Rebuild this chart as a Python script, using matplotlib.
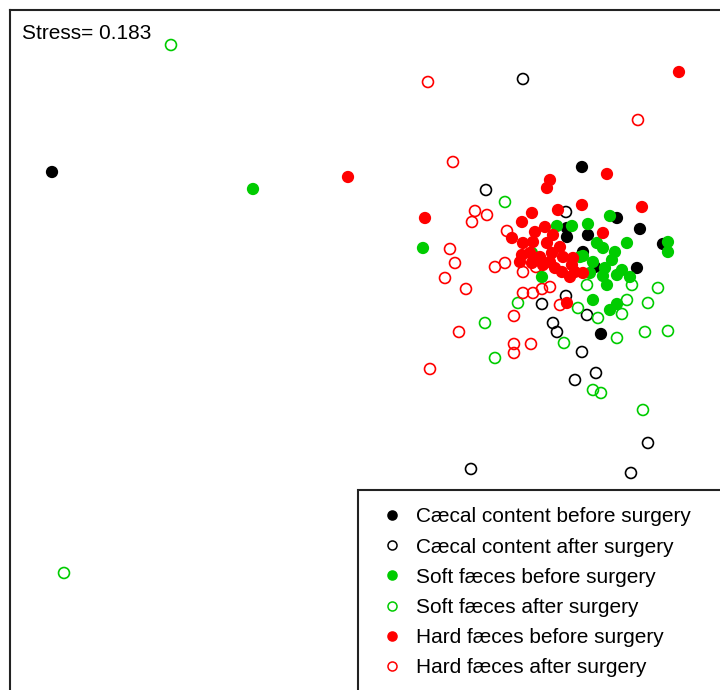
import matplotlib.pyplot as plt
from matplotlib.lines import Line2D
from matplotlib.patches import Rectangle

plt.rcParams['font.family'] = ['Liberation Sans', 'DejaVu Sans']

# NMDS scores per sample group (axis 1, axis 2)
caecal_before_x = [-2.34, 0.31, 0.485, 0.60, 0.235, 0.235, 0.34, 0.315, 0.375, 0.585, 0.715, 0.405]
caecal_before_y = [0.64, 0.665, 0.41, 0.355, 0.36, 0.315, 0.325, 0.24, 0.165, 0.16, 0.28, -0.17]

caecal_after_x = [0.015, -0.17, 0.23, 0.23, 0.11, 0.335, 0.165, 0.185, 0.31, 0.38, 0.275, 0.64, 0.555, -0.245]
caecal_after_y = [1.105, 0.55, 0.44, 0.02, -0.02, -0.075, -0.115, -0.16, -0.26, -0.365, -0.40, -0.715, -0.865, -0.845]

soft_before_x = [-1.335, -0.485, 0.185, 0.26, 0.34, 0.45, 0.535, 0.74, 0.74, 0.06, 0.11, 0.30, 0.385, 0.415,
                 0.475, 0.315, 0.365, 0.46, 0.425, 0.51, 0.35, 0.415, 0.485, 0.55, 0.435, 0.365, 0.485, 0.45]
soft_before_y = [0.555, 0.26, 0.37, 0.37, 0.38, 0.42, 0.285, 0.29, 0.24, 0.235, 0.115, 0.215, 0.285, 0.26,
                 0.24, 0.22, 0.19, 0.20, 0.16, 0.15, 0.135, 0.12, 0.125, 0.115, 0.075, 0.0, -0.02, -0.05]

soft_after_x = [-1.745, -2.28, -0.075, -0.01, -0.175, -0.125, 0.22, 0.335, 0.56, 0.69, 0.535, 0.64, 0.29,
                0.39, 0.51, 0.485, 0.625, 0.74, 0.365, 0.405, 0.615]
soft_after_y = [1.275, -1.365, 0.49, -0.015, -0.115, -0.29, -0.215, 0.075, 0.075, 0.06, 0.0, -0.015, -0.04,
                -0.09, -0.07, -0.19, -0.16, -0.155, -0.45, -0.465, -0.55]

hard_before_x = [0.795, -0.86, -0.475, 0.15, 0.135, 0.435, 0.31, 0.61, 0.19, 0.06, 0.01, 0.125, 0.075,
                 -0.04, 0.015, 0.065, 0.135, 0.20, 0.415, 0.01, 0.05, 0.10, 0.16, 0.215, 0.265, 0.0,
                 0.06, 0.115, 0.175, 0.21, 0.275, 0.15, 0.26, 0.315, 0.25, 0.235, 0.165]
hard_before_y = [1.14, 0.615, 0.41, 0.60, 0.56, 0.63, 0.475, 0.465, 0.45, 0.435, 0.39, 0.365, 0.34,
                 0.31, 0.285, 0.29, 0.285, 0.265, 0.335, 0.225, 0.235, 0.215, 0.235, 0.215, 0.21, 0.19,
                 0.185, 0.175, 0.16, 0.14, 0.14, 0.19, 0.175, 0.135, 0.115, -0.015, 0.325]

hard_after_x = [-0.46, 0.59, -0.335, -0.225, -0.165, -0.24, -0.065, -0.35, -0.325, -0.125, -0.075, 0.015,
                0.08, -0.375, -0.27, 0.015, 0.065, 0.11, 0.15, -0.03, -0.305, -0.03, -0.03, 0.055, -0.45, 0.20]
hard_after_y = [1.09, 0.90, 0.69, 0.445, 0.425, 0.39, 0.345, 0.255, 0.185, 0.165, 0.185, 0.14,
                0.165, 0.11, 0.055, 0.035, 0.035, 0.055, 0.065, -0.08, -0.16, -0.22, -0.265, -0.22, -0.345, -0.025]

stress = 0.183

labels = [
    "Cæcal content before surgery",
    "Cæcal content after surgery",
    "Soft fæces before surgery",
    "Soft fæces after surgery",
    "Hard fæces before surgery",
    "Hard fæces after surgery",
]

BLACK = "#000000"
GREEN = "#00cc00"
RED = "#ff0000"

groups = [
    (caecal_before_x, caecal_before_y, BLACK, True),
    (caecal_after_x, caecal_after_y, BLACK, False),
    (soft_before_x, soft_before_y, GREEN, True),
    (soft_after_x, soft_after_y, GREEN, False),
    (hard_before_x, hard_before_y, RED, True),
    (hard_after_x, hard_after_y, RED, False),
]

fig = plt.figure(figsize=(7.2, 6.9), dpi=100)
ax = fig.add_axes([0.0139, -0.0072, 0.993, 0.9927])

# open symbols first, filled ones on top
draw_order = [1, 3, 5, 0, 2, 4]
for k in draw_order:
    xs, ys, col, filled = groups[k]
    if filled:
        ax.scatter(xs, ys, s=78, color=col, edgecolors="none", zorder=3)
    else:
        ax.scatter(xs, ys, s=62, facecolors="none", edgecolors=col, linewidths=1.2, zorder=2)

ax.set_xlim(-2.55, 1.025)
ax.set_ylim(-1.975, 1.45)
ax.set_xticks([])
ax.set_yticks([])
for sp in ax.spines.values():
    sp.set_linewidth(1.5)
    sp.set_color("#222222")

ax.text(0.017, 0.966, "Stress= " + str(stress), transform=ax.transAxes,
        ha="left", va="center", fontsize=15)

# legend box sits in the bottom-right corner of the plot region
box = Rectangle((0.4867, -0.02), 0.6, 0.3193, transform=ax.transAxes,
                facecolor="white", edgecolor="#222222", linewidth=1.5, zorder=4)
ax.add_patch(box)

handles = []
for xs, ys, col, filled in groups:
    handles.append(Line2D([], [], linestyle="none", marker="o", markersize=6.5,
                          markerfacecolor=col if filled else "none",
                          markeredgecolor=col, markeredgewidth=1.1))

leg = ax.legend(handles, labels, loc="upper left", bbox_to_anchor=(0.4867, 0.2905),
                borderaxespad=0, fontsize=15, frameon=False,
                labelspacing=0.535, handlelength=2.2, handletextpad=0.05,
                borderpad=0.55)
leg.set_zorder(5)

fig.savefig("out.png", dpi=100)
